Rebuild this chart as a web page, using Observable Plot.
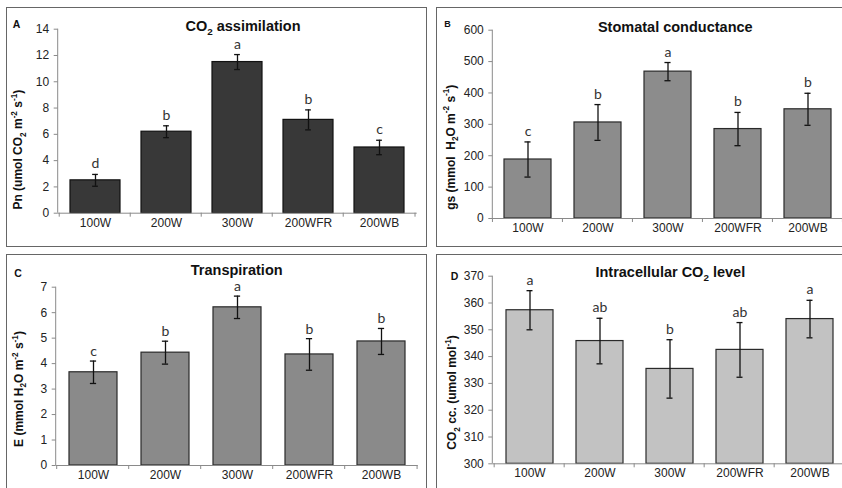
<!DOCTYPE html>
<html>
<head>
<meta charset="utf-8">
<script src="https://cdn.jsdelivr.net/npm/d3@7"></script>
<script src="https://cdn.jsdelivr.net/npm/@observablehq/plot@0.6"></script>
<style>
  html, body { margin: 0; padding: 0; background: #fff; }
  #root { position: relative; width: 842px; height: 488px; overflow: hidden; background: #fff; }
  #root svg { position: absolute; outline: 1.5px solid #666; outline-offset: -0.75px; }
</style>
</head>
<body>
<div id="root"></div>
<script>
const cats = ["100W", "200W", "300W", "200WFR", "200WB"];

const pnMean = [2.5, 6.2, 11.5, 7.1, 5.0];
const pnErr = [0.45, 0.45, 0.57, 0.76, 0.55];
const pnLetters = ["d", "b", "a", "b", "c"];
const pnTicks = [0, 2, 4, 6, 8, 10, 12, 14];

const gsMean = [188, 306, 468, 285, 348];
const gsErr = [56, 57, 29, 53, 51];
const gsLetters = ["c", "b", "a", "b", "b"];
const gsTicks = [0, 100, 200, 300, 400, 500, 600];

const eMean = [3.66, 4.43, 6.21, 4.36, 4.87];
const eErr = [0.44, 0.45, 0.44, 0.62, 0.51];
const eLetters = ["c", "b", "a", "b", "b"];
const eTicks = [0, 1, 2, 3, 4, 5, 6, 7];

const ciMean = [357.3, 345.8, 335.4, 342.5, 354.0];
const ciErr = [7.3, 8.5, 10.9, 10.2, 7.0];
const ciLetters = ["a", "ab", "b", "ab", "a"];
const ciTicks = [300, 310, 320, 330, 340, 350, 360, 370];

const W = 419, H = 238;
const FONT = "'Liberation Sans', Arial, sans-serif";

const panels = [
  { left: 7.3, top: 8.3, ml: 50.7, mr: 9.3, mt: 20.7, mb: 33.3, domain: [0, 14], ticks: pnTicks,
    mean: pnMean, err: pnErr, letters: pnLetters, fill: "#383838", stroke: "#111", pad: 0.3,
    tag: "A", tagX: 9.5, tagY: 20, tagSize: 10.5, dy: -6,
    title: ["CO", {t: "2", k: "sub"}, " assimilation"], titleX: 236, titleY: 22.7,
    ylab: ["Pn (umol CO", {t: "2", k: "sub"}, " m", {t: "-2", k: "sup"}, " s", {t: "-1", k: "sup"}, ")"], ylabX: 15.4, ylabY: 141.7 },
  { left: 436.7, top: 8.3, ml: 55.3, mr: 13.7, mt: 21.7, mb: 28, domain: [0, 600], ticks: gsTicks,
    mean: gsMean, err: gsErr, letters: gsLetters, fill: "#8c8c8c", stroke: "#2a2a2a", pad: 0.33,
    tag: "B", tagX: 10.5, tagY: 19, tagSize: 9, dy: -6,
    title: ["Stomatal conductance"], titleX: 238.3, titleY: 23.5,
    ylab: ["gs (mmol  H", {t: "2", k: "sub"}, "O m", {t: "-2", k: "sup"}, " s", {t: "-1", k: "sup"}, ")"], ylabX: 17.5, ylabY: 139.2 },
  { left: 7.3, top: 255, ml: 48.7, mr: 8.3, mt: 31.7, mb: 28, domain: [0, 7], ticks: eTicks,
    mean: eMean, err: eErr, letters: eLetters, fill: "#8a8a8a", stroke: "#2a2a2a", pad: 0.34,
    tag: "C", tagX: 11, tagY: 22.3, tagSize: 10.5, dy: -5,
    title: ["Transpiration"], titleX: 229.7, titleY: 19.8,
    ylab: ["E (mmol H", {t: "2", k: "sub"}, "O m", {t: "-2", k: "sup"}, " s", {t: "-1", k: "sup"}, ")"], ylabX: 15.7, ylabY: 134 },
  { left: 436.7, top: 255, ml: 55.3, mr: 10.2, mt: 20.7, mb: 29.7, domain: [300, 370], ticks: ciTicks,
    mean: ciMean, err: ciErr, letters: ciLetters, fill: "#c2c2c2", stroke: "#2a2a2a", pad: 0.335,
    tag: "D", tagX: 17.6, tagY: 25, tagSize: 10.5, dy: -6,
    title: ["Intracellular CO", {t: "2", k: "sub"}, " level"], titleX: 233.3, titleY: 22,
    ylab: ["CO", {t: "2", k: "sub"}, " cc. (umol mol", {t: "-1", k: "sup"}, ")"], ylabX: 19.3, ylabY: 137.5 }
];

function richText(sel, segs, size) {
  let shift = 0;
  segs.forEach(s => {
    if (typeof s === "string") {
      sel.append("tspan").attr("dy", -shift).attr("font-size", size).text(s);
      shift = 0;
    } else {
      const target = s.k === "sub" ? size * 0.3 : -size * 0.42;
      sel.append("tspan").attr("dy", target - shift).attr("font-size", size * 0.68).text(s.t);
      shift = target;
    }
  });
}

const root = document.getElementById("root");

panels.forEach(cfg => {
  const data = cats.map((c, i) => ({ cat: c, v: cfg.mean[i], e: cfg.err[i], lab: cfg.letters[i] }));
  const step = (W - cfg.ml - cfg.mr) / cats.length;
  const bw = step * (1 - cfg.pad);
  const capInset = (bw - 6) / 2;
  const y0 = cfg.domain[0];

  const chart = Plot.plot({
    width: W, height: H,
    marginLeft: cfg.ml, marginRight: cfg.mr, marginTop: cfg.mt, marginBottom: cfg.mb,
    style: { fontFamily: FONT, fontSize: "12px", background: "white", overflow: "visible" },
    x: { domain: cats, paddingInner: cfg.pad, paddingOuter: cfg.pad / 2, label: null },
    y: { domain: cfg.domain, label: null },
    marks: [
      Plot.barY(data, { x: "cat", y1: y0, y2: "v", fill: cfg.fill, stroke: cfg.stroke, strokeWidth: 1.2 }),
      Plot.ruleX(data, { x: "cat", y1: d => d.v - d.e, y2: d => d.v + d.e, stroke: "#111", strokeWidth: 1.3 }),
      Plot.tickY(data, { x: "cat", y: d => d.v - d.e, insetLeft: capInset, insetRight: capInset, stroke: "#111", strokeWidth: 1.3 }),
      Plot.tickY(data, { x: "cat", y: d => d.v + d.e, insetLeft: capInset, insetRight: capInset, stroke: "#111", strokeWidth: 1.3 }),
      Plot.text(data, { x: "cat", y: d => d.v + d.e, text: "lab", dy: cfg.dy, lineAnchor: "bottom",
        fontFamily: "Lato, 'Open Sans', sans-serif", fontSize: 14, fill: "#333" }),
      Plot.ruleY([y0], { stroke: "#8a8a8a", strokeWidth: 1 }),
      Plot.axisY({ ticks: cfg.ticks, tickSize: 4, tickFormat: () => "", stroke: "#8a8a8a", label: null }),
      Plot.axisY({ ticks: cfg.ticks, tickSize: 0, tickPadding: 9, tickFormat: d => String(d), fill: "#222", fontSize: 12, label: null }),
      Plot.axisX({ tickSize: 0, tickPadding: 5, fill: "#222", fontSize: 12, label: null })
    ]
  });

  chart.style.left = cfg.left + "px";
  chart.style.top = cfg.top + "px";
  chart.style.maxWidth = "none";
  root.appendChild(chart);

  const svg = d3.select(chart);
  const xs = chart.scale("x"), ys = chart.scale("y");
  const yTop = ys.apply(cfg.domain[1]), yBot = ys.apply(y0);
  const g = svg.append("g");
  // y axis line
  g.append("line").attr("x1", cfg.ml).attr("x2", cfg.ml).attr("y1", yTop).attr("y2", yBot)
    .attr("stroke", "#8a8a8a").attr("stroke-width", 1);
  // category boundary ticks
  const gap = (step - bw) / 2;
  const bounds = cats.map(c => xs.apply(c) - gap);
  bounds.push(xs.apply(cats[cats.length - 1]) + bw + gap);
  bounds.forEach(b => {
    g.append("line").attr("x1", b).attr("x2", b).attr("y1", yBot).attr("y2", yBot + 4)
      .attr("stroke", "#8a8a8a").attr("stroke-width", 1);
  });
  // panel tag
  g.append("text").attr("x", cfg.tagX).attr("y", cfg.tagY).attr("font-family", FONT)
    .attr("font-weight", "bold").attr("font-size", cfg.tagSize).attr("fill", "#111").text(cfg.tag);
  // title
  const t = g.append("text").attr("x", cfg.titleX).attr("y", cfg.titleY).attr("text-anchor", "middle")
    .attr("font-family", FONT).attr("font-weight", "bold").attr("fill", "#111");
  richText(t, cfg.title, 14.5);
  // y label
  const yl = g.append("text").attr("text-anchor", "middle")
    .attr("transform", `translate(${cfg.ylabX},${cfg.ylabY}) rotate(-90)`)
    .attr("font-family", FONT).attr("font-weight", "bold").attr("fill", "#111");
  yl.append("tspan").attr("dy", "0.35em").text("");
  richText(yl, cfg.ylab, 12);
});
</script>
</body>
</html>
